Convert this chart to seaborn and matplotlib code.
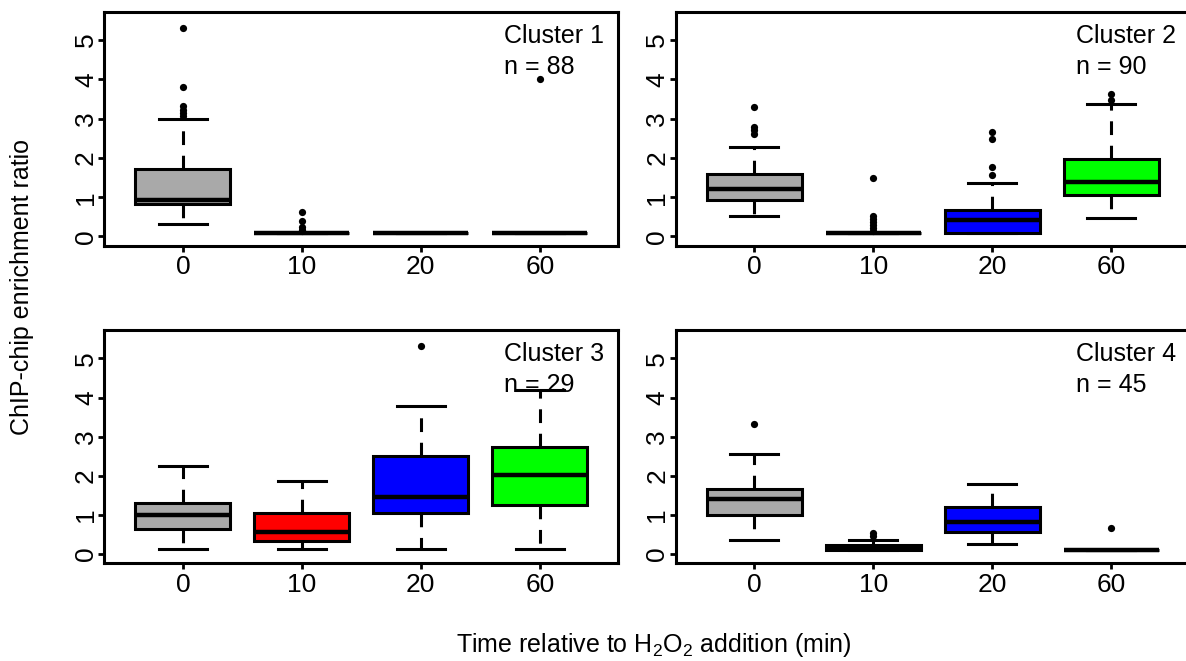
import numpy as np
import pandas as pd
import matplotlib
matplotlib.use("Agg")
import matplotlib.pyplot as plt
import seaborn as sns

plt.rcParams['font.family'] = ['Liberation Sans', 'DejaVu Sans']
plt.rcParams['mathtext.fontset'] = 'custom'
plt.rcParams['mathtext.rm'] = 'Liberation Sans'
plt.rcParams['mathtext.default'] = 'regular'

# ---------------- data ----------------
times = ["0", "10", "20", "60"]
cluster_names = ["Cluster 1", "Cluster 2", "Cluster 3", "Cluster 4"]
cluster_n = [88, 90, 29, 45]
box_colors = ["#A9A9A9", "#FF0000", "#0000FF", "#00FF00"]

# five-number summaries per time point: [lower whisker, Q1, median, Q3, upper whisker]
c1_stats = [[0.31, 0.83, 0.94, 1.71, 3.00],
            [0.10, 0.10, 0.10, 0.10, 0.10],
            [0.10, 0.10, 0.10, 0.10, 0.10],
            [0.10, 0.10, 0.10, 0.10, 0.10]]
c2_stats = [[0.52, 0.94, 1.22, 1.58, 2.28],
            [0.10, 0.10, 0.10, 0.10, 0.10],
            [0.10, 0.10, 0.41, 0.68, 1.35],
            [0.48, 1.05, 1.39, 1.98, 3.38]]
c3_stats = [[0.12, 0.65, 1.00, 1.30, 2.26],
            [0.12, 0.34, 0.56, 1.05, 1.87],
            [0.12, 1.05, 1.47, 2.50, 3.78],
            [0.12, 1.26, 2.02, 2.73, 4.19]]
c4_stats = [[0.37, 1.00, 1.41, 1.67, 2.55],
            [0.10, 0.11, 0.17, 0.24, 0.36],
            [0.26, 0.57, 0.83, 1.21, 1.78],
            [0.10, 0.10, 0.10, 0.10, 0.10]]

# outliers per time point
c1_out = [[5.32, 3.80, 3.32, 3.22, 3.14, 3.08], [0.62, 0.39, 0.24, 0.17, 0.13], [], [4.01]]
c2_out = [[3.30, 2.80, 2.72, 2.62], [1.49, 0.53, 0.44, 0.36, 0.28, 0.21, 0.15],
          [2.66, 2.47, 1.77, 1.57], [3.64, 3.47]]
c3_out = [[], [], [5.31], []]
c4_out = [[3.33], [0.53, 0.45], [], [0.66]]

all_stats = [c1_stats, c2_stats, c3_stats, c4_stats]
all_out = [c1_out, c2_out, c3_out, c4_out]

# ---------------- figure ----------------
W, H = 1186, 661
fig = plt.figure(figsize=(W / 100, H / 100), dpi=100)

# axes rectangles in pixels: left, top, right, bottom
rects = [(104.3, 11.7, 618.3, 245.7), (675.7, 11.7, 1189.7, 245.7),
         (104.3, 330.0, 618.3, 563.3), (675.7, 330.0, 1189.7, 563.3)]

palette = dict(zip(times, box_colors))

for k in range(4):
    l, t, r, b = rects[k]
    ax = fig.add_axes([l / W, 1 - b / H, (r - l) / W, (b - t) / H])

    rows = []
    for tm, st in zip(times, all_stats[k]):
        for v in st:
            rows.append((tm, v))
    core = pd.DataFrame(rows, columns=["time", "value"])
    orows = []
    for tm, ov in zip(times, all_out[k]):
        for v in ov:
            orows.append((tm, v))
    outl = pd.DataFrame(orows, columns=["time", "value"])

    sns.boxplot(data=core, x="time", y="value", hue="time", order=times,
                hue_order=times, palette=palette, legend=False, saturation=1,
                whis=(0, 100), showfliers=False, width=0.8,
                linecolor="black", linewidth=2.2,
                medianprops={"linewidth": 3.2, "color": "black"},
                whiskerprops={"linestyle": (0, (4.5, 3.5)), "linewidth": 2.2, "color": "black"},
                capprops={"linewidth": 2.2, "color": "black"},
                ax=ax)
    if len(outl):
        sns.stripplot(data=outl, x="time", y="value", order=times, jitter=False,
                      color="black", size=5.2, linewidth=0, zorder=5, ax=ax)

    ax.set_xlim(-0.66, 3.66)
    ax.set_ylim(-0.235, 5.725)
    ax.set_yticks([0, 1, 2, 3, 4, 5])
    ax.set_yticklabels(["0", "1", "2", "3", "4", "5"])
    ax.set_xlabel("")
    ax.set_ylabel("")
    for s in ax.spines.values():
        s.set_linewidth(2.2)
        s.set_color("black")
        s.set_visible(True)
    ax.tick_params(axis="both", length=4, width=2, labelsize=19, color="black")
    ax.tick_params(axis="x", pad=3)
    ax.tick_params(axis="y", pad=0.5, labelrotation=90)
    for lab in ax.get_yticklabels():
        lab.set_va("center")

    ax.text(0.778, 0.868, cluster_names[k], transform=ax.transAxes,
            fontsize=18, ha="left", va="baseline")
    ax.text(0.778, 0.734, f"n = {cluster_n[k]}", transform=ax.transAxes,
            fontsize=18, ha="left", va="baseline")

fig.text(22 / W, 1 - 287 / H, "ChIP-chip enrichment ratio", rotation=90,
         fontsize=18, ha="center", va="center")
fig.text(654 / W, 1 - 652 / H, "Time relative to H$_2$O$_2$ addition (min)",
         fontsize=18, ha="center", va="baseline")

fig.savefig("out.png", dpi=100)
